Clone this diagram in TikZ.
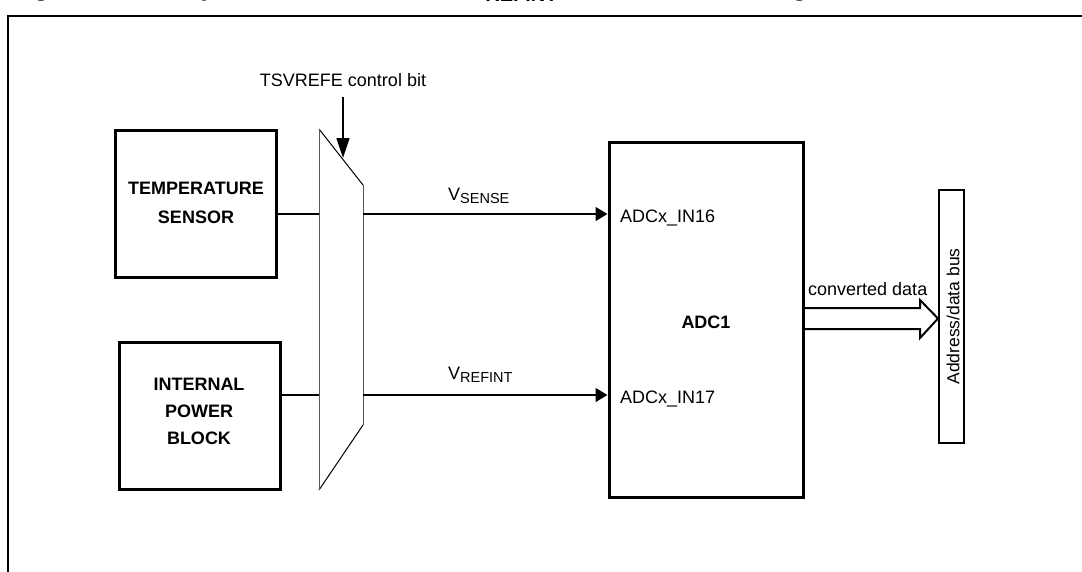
\documentclass[tikz,border=0pt]{standalone}
\usepackage{fontspec}
\setmainfont{Liberation Sans}
\usetikzlibrary{arrows.meta}
\newcommand{\txt}{\fontsize{18}{22}\selectfont}
\newcommand{\sbs}[1]{\raisebox{-3.5pt}{\fontsize{14.5}{16}\selectfont #1}}
\begin{document}
\begin{tikzpicture}[x=1pt,y=-1pt,
  thickbox/.style={draw, line width=3pt, inner sep=0pt},
  busbox/.style={draw, line width=2pt, inner sep=0pt},
  lbl/.style={inner sep=0pt, font=\txt},
  blbl/.style={inner sep=0pt, font=\txt\bfseries, align=center},
  wire/.style={line width=1.5pt},
  pin/.style={wire, -{Triangle[length=12pt,width=14pt]}},
  ctlarrow/.style={line width=1.5pt, -{Triangle[length=20pt,width=13pt]}}
]
\useasboundingbox (0,0) rectangle (1082,571);
\clip (0,0) rectangle (1082,571);

% cut-off title
\node[anchor=base west, inner sep=0pt, font=\fontsize{27}{30}\selectfont\bfseries] (title) at (9,-5)
  {Figure 30. Temperature sensor and V\raisebox{-6pt}{\fontsize{20}{22}\selectfont REFINT} channel block diagram};

% outer frame
\coordinate (frTR) at (1090,16);
\coordinate (frTL) at (8,16);
\coordinate (frBL) at (8,580);
\draw[line width=2pt] (frTR) -- (frTL) -- (frBL);

% blocks
\node[thickbox, minimum width=161pt, minimum height=147pt] (temp) at (195.5,203.5) {};
\node[blbl, anchor=base] (templ1) at (196,194) {TEMPERATURE};
\node[blbl, anchor=base] (templ2) at (196,223) {SENSOR};

\node[thickbox, minimum width=161pt, minimum height=147pt] (power) at (199.5,415.5) {};
\node[blbl, anchor=base] (powl1) at (199,390) {INTERNAL};
\node[blbl, anchor=base] (powl2) at (199,417) {POWER};
\node[blbl, anchor=base] (powl3) at (199,444) {BLOCK};

\node[thickbox, minimum width=194pt, minimum height=355pt] (adc) at (706,319.5) {};
\node[blbl] (adcl) at (706,322) {ADC1};
\node[lbl, anchor=base west] (in16) at (620,222) {ADCx\_IN16};
\node[lbl, anchor=base west] (in17) at (620,403) {ADCx\_IN17};

% multiplexer
\coordinate (mTL) at (319,129);
\coordinate (mTR) at (363,185);
\coordinate (mBR) at (363,425);
\coordinate (mBL) at (319,490);
\draw[line width=1pt] (mTL) -- (mTR);
\draw[line width=1pt] (mBR) -- (mBL);
\draw[line width=1pt, black!65] (mTR) -- (mBR);
\draw[line width=1pt, black!65] (mBL) -- (mTL);

% control bit
\node[lbl, anchor=base] (ctll) at (343,86) {TSVREFE control bit};
\coordinate (ctlS) at (343,97);
\coordinate (ctlE) at (343,158);
\draw[ctlarrow] (ctlS) -- (ctlE);

% signal wires
\coordinate (m1l) at (319,214);
\coordinate (m1r) at (363,214);
\coordinate (m2l) at (319,395);
\coordinate (m2r) at (363,395);
\draw[wire] (temp.east |- m1l) -- (m1l);
\draw[pin] (m1r) -- (adc.west |- m1r);
\draw[wire] (power.east |- m2l) -- (m2l);
\draw[pin] (m2r) -- (adc.west |- m2r);
\node[lbl, anchor=base west] (vsense) at (448,200) {V\sbs{SENSE}};
\node[lbl, anchor=base west] (vrefint) at (448,379) {V\sbs{REFINT}};

% bus
\node[busbox, minimum width=25pt, minimum height=253pt] (bus) at (951.5,316.5) {};
\node[inner sep=0pt, font=\fontsize{17.5}{20}\selectfont, rotate=90] (busl) at (953,316.5) {Address/data bus};

% hollow bus arrow
\coordinate (ha1) at (adc.east |- 0,308);
\coordinate (ha7) at (adc.east |- 0,329);
\draw[line width=2pt, line join=miter] (ha1) -- (920,308) -- (920,300) -- (bus.west |- 0,318.5) -- (920,338) -- (920,329) -- (ha7);
\node[lbl, anchor=base west] (conv) at (808,295) {converted data};
\end{tikzpicture}
\end{document}
